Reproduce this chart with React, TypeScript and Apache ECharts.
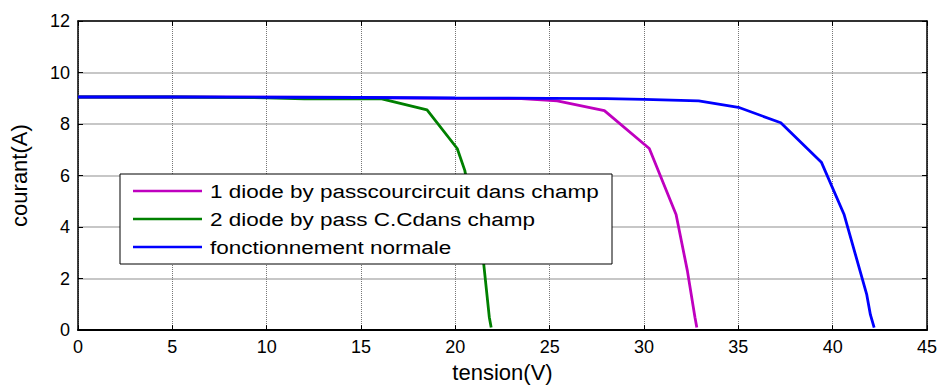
import React, { useEffect, useRef } from "react";
import * as echarts from "echarts";

const xTicks = [0, 5, 10, 15, 20, 25, 30, 35, 40, 45];
const yTicks = [0, 2, 4, 6, 8, 10, 12];

const seriesNames = [
  "1 diode by passcourcircuit dans champ",
  "2 diode by pass C.Cdans champ",
  "fonctionnement normale",
];

const magentaV = [0, 5, 10, 15, 20, 23.5, 25.4, 27.9, 30.28, 31.7, 32.3, 32.7, 32.8];
const magentaI = [9.05, 9.05, 9.04, 9.03, 9.0, 8.99, 8.9, 8.52, 7.05, 4.49, 2.3, 0.5, 0.1];

const greenV = [0, 5, 10, 12, 16.1, 18.5, 20.1, 20.5, 21.5, 21.8, 21.9];
const greenI = [9.05, 9.05, 9.02, 8.98, 8.98, 8.55, 7.05, 6.2, 2.6, 0.5, 0.1];

const blueV = [0, 5, 10, 15, 20, 25, 28, 30, 32.9, 35, 37.25, 39.4, 40.6, 41.8, 42.0, 42.2];
const blueI = [9.05, 9.05, 9.04, 9.03, 9.01, 9.0, 8.99, 8.96, 8.9, 8.65, 8.05, 6.52, 4.5, 1.4, 0.6, 0.1];

const colors = ["#bf00bf", "#008000", "#0000ff"];

const pair = (xs: number[], ys: number[]) => xs.map((x, i) => [x, ys[i]]);

export default function App() {
  const ref = useRef<HTMLDivElement>(null);
  useEffect(() => {
    if (!ref.current) return;
    const chart = echarts.init(ref.current, null, { renderer: "svg" });
    const font = "Liberation Sans";
    const xBase = {
      type: "value",
      min: xTicks[0],
      max: xTicks[xTicks.length - 1],
      interval: 5,
    };
    const yBase = {
      type: "value",
      min: yTicks[0],
      max: yTicks[yTicks.length - 1],
      interval: 2,
    };
    const datas = [pair(magentaV, magentaI), pair(greenV, greenI), pair(blueV, blueI)];

    // legend box (drawn as graphic so the text can match the reference's wide lettering)
    const lgX = 120, lgY = 174, lgW = 492, lgH = 90;
    const rowY = [191, 219, 247];
    const legendChildren: any[] = [
      {
        type: "rect",
        z: 100,
        shape: { x: lgX, y: lgY, width: lgW, height: lgH },
        style: { fill: "#ffffff", stroke: "#000", lineWidth: 1 },
      },
    ];
    seriesNames.forEach((n, i) => {
      legendChildren.push({
        type: "line",
        z: 101,
        shape: { x1: 133, y1: rowY[i], x2: 202, y2: rowY[i] },
        style: { stroke: colors[i], lineWidth: 2.6 },
      });
      legendChildren.push({
        type: "text",
        z: 101,
        x: 210,
        y: rowY[i] + 1,
        scaleX: 1.25,
        style: {
          text: n,
          fontFamily: font,
          fontSize: 18,
          fill: "#000",
          verticalAlign: "middle",
          align: "left",
        },
      });
    });

    chart.setOption({
      animation: false,
      backgroundColor: "#ffffff",
      grid: { left: 76, right: 16, top: 21, bottom: 54 },
      legend: { show: false },
      xAxis: [
        {
          ...xBase,
          position: "bottom",
          name: "tension(V)",
          nameLocation: "middle",
          nameGap: 30,
          nameTextStyle: { fontFamily: font, fontSize: 22, color: "#000" },
          axisLine: { show: true, onZero: false, lineStyle: { color: "#000", width: 2 } },
          axisTick: { show: true, inside: true, length: 5, lineStyle: { color: "#000" } },
          axisLabel: { fontFamily: font, fontSize: 18, color: "#000", margin: 8 },
          splitLine: { show: true, lineStyle: { color: "#777", width: 1, type: [1, 1] } },
        },
        {
          ...xBase,
          position: "top",
          axisLine: { show: true, onZero: false, lineStyle: { color: "#000", width: 1.5 } },
          axisTick: { show: true, inside: true, length: 5, lineStyle: { color: "#000" } },
          axisLabel: { show: false },
          splitLine: { show: false },
        },
      ],
      yAxis: [
        {
          ...yBase,
          position: "left",
          name: "courant(A)",
          nameLocation: "middle",
          nameGap: 48,
          nameTextStyle: { fontFamily: font, fontSize: 22, color: "#000" },
          axisLine: { show: true, onZero: false, lineStyle: { color: "#000", width: 1.5 } },
          axisTick: { show: true, inside: true, length: 5, lineStyle: { color: "#000" } },
          axisLabel: { fontFamily: font, fontSize: 18, color: "#000", margin: 8 },
          splitLine: { show: true, lineStyle: { color: "#b4b4b4", width: 1.5 } },
        },
        {
          ...yBase,
          position: "right",
          axisLine: { show: true, onZero: false, lineStyle: { color: "#000", width: 1.5 } },
          axisTick: { show: true, inside: true, length: 5, lineStyle: { color: "#000" } },
          axisLabel: { show: false },
          splitLine: { show: false },
        },
      ],
      graphic: [{ type: "group", z: 100, children: legendChildren }],
      series: seriesNames.map((n, i) => ({
        name: n,
        type: "line",
        data: datas[i],
        xAxisIndex: 0,
        yAxisIndex: 0,
        showSymbol: false,
        symbol: "none",
        color: colors[i],
        lineStyle: { color: colors[i], width: 2.8 },
        z: 3 + i,
      })),
    });
    return () => chart.dispose();
  }, []);
  return (
    <div
      ref={ref}
      style={{ position: "fixed", left: 0, top: 0, width: 943, height: 388 }}
    />
  );
}
